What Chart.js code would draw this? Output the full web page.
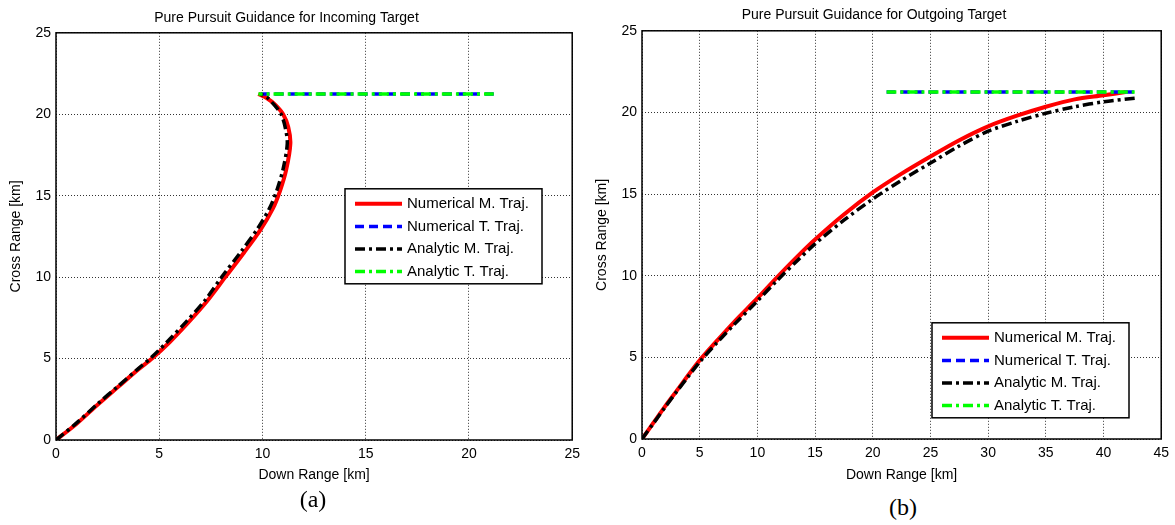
<!DOCTYPE html>
<html>
<head>
<meta charset="utf-8">
<script src="https://cdn.jsdelivr.net/npm/chart.js@4.4.0/dist/chart.umd.min.js"></script>
<style>
  body { margin: 0; background: #fff; width: 1175px; height: 525px; position: relative; overflow: hidden; }
  canvas { position: absolute; top: 0; }
  #chartA { left: 0; }
  #chartB { left: 586px; }
  .cap { position: absolute; font-family: 'Liberation Serif', 'Times New Roman', serif; font-size: 24px; color: #000; transform: translate(-50%, -50%); }
</style>
</head>
<body>
<canvas id="chartA" width="586" height="490"></canvas>
<canvas id="chartB" width="589" height="490"></canvas>
<div class="cap" style="left:313px; top:499px">(a)</div>
<div class="cap" style="left:903px; top:507px">(b)</div>
<script>
const legendLabels = ['Numerical M. Traj.', 'Numerical T. Traj.', 'Analytic M. Traj.', 'Analytic T. Traj.'];
const axisTicks = [0, 5, 10, 15, 20, 25, 30, 35, 40, 45];

// (a) incoming target
const inNumMx = [0, 1, 2, 3, 4, 4.65, 5.5, 6.4, 7.3, 8.2, 9.1, 9.9, 10.5, 10.85, 11.15, 11.35, 11.25, 11.0, 10.6, 10.2, 9.8];
const inNumMy = [0, 1.0, 2.15, 3.25, 4.35, 5.0, 6.0, 7.2, 8.5, 10.0, 11.5, 12.9, 14.2, 15.3, 16.6, 18.2, 19.2, 20.0, 20.6, 21.0, 21.25];
const inNumTx = [21.2, 9.8];
const inNumTy = [21.25, 21.25];
const inAnaMx = [0, 1, 2, 3, 4, 4.6, 5.4, 6.3, 7.2, 8.05, 8.95, 9.75, 10.35, 10.7, 11.0, 11.2, 11.1, 10.9, 10.55, 10.25, 9.9];
const inAnaMy = [0, 1.05, 2.2, 3.3, 4.4, 5.05, 6.05, 7.25, 8.55, 10.05, 11.55, 12.95, 14.25, 15.35, 16.65, 18.2, 19.2, 20.0, 20.6, 21.0, 21.25];
const inAnaTx = [21.2, 9.8];
const inAnaTy = [21.25, 21.25];

// (b) outgoing target
const outNumMx = [0, 1, 2, 3, 4, 5, 6.5, 8, 10, 11.7, 13.5, 15, 17.5, 20, 22.5, 25, 27.5, 30, 32.5, 35, 37.5, 40, 41.9];
const outNumMy = [0, 1.0, 2.0, 2.95, 3.9, 4.82, 6.02, 7.18, 8.62, 9.9, 11.2, 12.22, 13.75, 15.1, 16.25, 17.3, 18.3, 19.15, 19.8, 20.35, 20.8, 21.05, 21.25];
const outNumTx = [21.2, 42.9];
const outNumTy = [21.25, 21.25];
const outAnaMx = [0, 1, 2, 3, 4, 5, 6.5, 8, 10, 11.7, 13.5, 15, 17.5, 20, 22.5, 25, 27.5, 30, 32.5, 35, 37.5, 40, 43];
const outAnaMy = [0, 0.97, 1.95, 2.9, 3.82, 4.72, 5.9, 7.02, 8.45, 9.7, 10.95, 11.95, 13.4, 14.7, 15.85, 16.9, 17.95, 18.85, 19.45, 19.95, 20.35, 20.65, 20.9];
const outAnaTx = [21.2, 42.9];
const outAnaTy = [21.25, 21.25];

Chart.defaults.font.family = "'Liberation Sans', Arial, sans-serif";
Chart.defaults.color = '#000';

function pts(xs, ys) {
  return xs.map((x, i) => ({ x: x, y: ys[i] }));
}

function makeSets(mx, my, tx, ty, ax, ay, atx, aty) {
  return [
    { label: legendLabels[0], data: pts(mx, my), borderColor: '#ff0000', borderWidth: 4, order: 3 },
    { label: legendLabels[1], data: pts(tx, ty), borderColor: '#0000ff', borderWidth: 3.5, borderDash: [9, 5], order: 2 },
    { label: legendLabels[2], data: pts(ax, ay), borderColor: '#000000', borderWidth: 3.5, borderDash: [10, 4, 3, 4], order: 1 },
    { label: legendLabels[3], data: pts(atx, aty), borderColor: '#00ff00', borderWidth: 3.5, borderDash: [10, 4, 3, 4], order: 0 }
  ].map(d => Object.assign(d, { showLine: true, pointRadius: 0, tension: 0.3, fill: false }));
}

// axes frame and the boxed legend inside the plot
const framePlugin = {
  id: 'frame',
  afterDraw(chart, args, opts) {
    const { ctx, chartArea: a } = chart;
    const bx = a.left + opts.boxX, by = a.top + opts.boxY;
    ctx.save();
    ctx.fillStyle = '#fff';
    ctx.fillRect(bx, by, opts.boxW, opts.boxH);
    ctx.strokeStyle = '#000';
    ctx.lineWidth = 1.5;
    ctx.strokeRect(bx, by, opts.boxW, opts.boxH);
    ctx.font = "15px 'Liberation Sans', Arial, sans-serif";
    ctx.textBaseline = 'middle';
    chart.data.datasets.forEach((ds, i) => {
      const y = by + 15 + i * 22.6;
      ctx.setLineDash(ds.borderDash || []);
      ctx.strokeStyle = ds.borderColor;
      ctx.lineWidth = ds.borderWidth;
      ctx.beginPath();
      ctx.moveTo(bx + 10, y);
      ctx.lineTo(bx + 57, y);
      ctx.stroke();
      ctx.setLineDash([]);
      ctx.fillStyle = '#000';
      ctx.fillText(ds.label, bx + 62, y);
    });
    ctx.strokeStyle = '#000';
    ctx.lineWidth = 1.5;
    ctx.strokeRect(a.left, a.top, a.width, a.height);
    ctx.restore();
  }
};

function makeChart(id, title, titlePad, xmax, xh, sets, box) {
  return new Chart(document.getElementById(id), {
    type: 'scatter',
    data: { datasets: sets },
    plugins: [framePlugin],
    options: {
      responsive: false,
      animation: false,
      devicePixelRatio: 1,
      layout: { padding: { left: 0, right: 13, top: 0, bottom: 0 } },
      plugins: {
        legend: { display: false },
        tooltip: { enabled: false },
        title: { display: true, text: title, font: { size: 14, weight: 'normal' }, padding: titlePad },
        frame: box
      },
      scales: {
        x: {
          type: 'linear', min: 0, max: xmax,
          afterFit: s => { s.height = xh; },
          afterBuildTicks: s => { s.ticks = axisTicks.filter(v => v <= xmax).map(v => ({ value: v })); },
          ticks: { font: { size: 14 }, padding: 6, maxRotation: 0, autoSkip: false },
          grid: { color: 'rgba(0,0,0,0.8)', lineWidth: 1, drawTicks: false },
          border: { display: false, dash: [1, 2] },
          title: { display: true, text: 'Down Range [km]', font: { size: 14 }, padding: { top: 0, bottom: 6 } }
        },
        y: {
          type: 'linear', min: 0, max: 25,
          afterFit: s => { s.width = 56; },
          afterBuildTicks: s => { s.ticks = axisTicks.filter(v => v <= 25).map(v => ({ value: v })); },
          ticks: { font: { size: 14 }, padding: 5 },
          grid: { color: 'rgba(0,0,0,0.8)', lineWidth: 1, drawTicks: false },
          border: { display: false, dash: [1, 2] },
          title: { display: true, text: 'Cross Range [km]', font: { size: 14 }, padding: { top: 8, bottom: 0 } }
        }
      }
    }
  });
}

makeChart('chartA', 'Pure Pursuit Guidance for Incoming Target', { top: 10, bottom: 6 }, 25, 50,
  makeSets(inNumMx, inNumMy, inNumTx, inNumTy, inAnaMx, inAnaMy, inAnaTx, inAnaTy),
  { boxX: 289, boxY: 156, boxW: 197, boxH: 95 });

makeChart('chartB', 'Pure Pursuit Guidance for Outgoing Target', { top: 7, bottom: 7 }, 45, 51,
  makeSets(outNumMx, outNumMy, outNumTx, outNumTy, outAnaMx, outAnaMy, outAnaTx, outAnaTy),
  { boxX: 290, boxY: 292, boxW: 197, boxH: 95 });
</script>
</body>
</html>
